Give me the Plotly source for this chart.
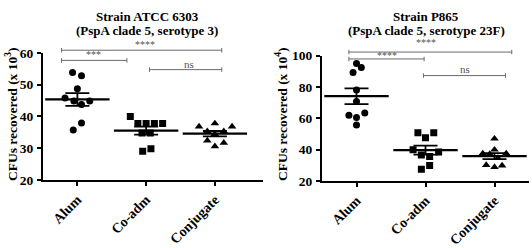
import numpy as np
import plotly.graph_objects as go

# ---------------- data ----------------
categories = ["Alum", "Co-adm", "Conjugate"]

left_title = ["Strain ATCC 6303", "(PspA clade 5, serotype 3)"]
right_title = ["Strain P865", "(PspA clade 5, serotype 23F)"]
left_ytitle = "CFUs recovered (x 10<sup>3</sup>)"
right_ytitle = "CFUs recovered (x 10<sup>4</sup>)"

left_alum = [53.8, 52.8, 48.7, 45.8, 44.8, 44.8, 43.7, 37.9, 35.7]
left_coadm = [40.0, 37.8, 37.8, 37.8, 37.8, 34.8, 34.8, 29.8, 29.0]
left_conj = [37.8, 36.8, 36.8, 35.3, 35.3, 34.4, 32.4, 31.7, 30.6]

right_alum = [94.9, 92.4, 89.1, 78.0, 70.6, 63.4, 61.9, 60.5, 55.6]
right_coadm = [50.8, 50.8, 47.6, 39.9, 38.5, 36.5, 35.6, 29.8, 27.4]
right_conj = [46.9, 39.9, 37.5, 37.5, 37.1, 34.6, 30.1, 29.8, 28.8]

left_yticks = [20, 30, 40, 50, 60]
right_yticks = [20, 40, 60, 80, 100]

# significance comparisons: (from category, to category, label)
left_sig = [("Alum", "Conjugate", "****"), ("Alum", "Co-adm", "***"), ("Co-adm", "Conjugate", "ns")]
right_sig = [("Alum", "Conjugate", "****"), ("Alum", "Co-adm", "****"), ("Co-adm", "Conjugate", "ns")]

# ---------------- layout / style (positions, not data) ----------------
left_dx = [
    [-0.07, 0.06, 0.0, -0.18, -0.05, 0.18, 0.06, 0.06, -0.06],
    [-0.23, -0.12, 0.0, 0.12, 0.24, -0.06, 0.06, 0.07, -0.05],
    [0.0, -0.23, 0.25, -0.11, 0.13, 0.0, -0.11, 0.13, 0.0],
]
right_dx = [
    [0.0, 0.07, -0.05, 0.0, 0.0, 0.12, -0.11, 0.0, 0.0],
    [-0.11, 0.12, 0.0, -0.18, 0.19, -0.06, 0.06, 0.06, -0.06],
    [0.0, 0.0, -0.17, 0.17, -0.07, 0.05, -0.12, 0.11, 0.0],
]
symbols = ["circle", "square", "triangle-up"]
msizes = [7, 7, 7.5]

# bracket placement: (x start, x end, y bracket, x text, y text) in axis units
left_br = [(-0.23, 2.1, 60.8, 0.99, 62.7), (-0.23, 0.72, 57.6, 0.24, 59.4), (1.05, 2.1, 54.7, 1.62, 56.4)]
right_br = [(-0.11, 2.25, 102.2, 1.0, 108.0), (-0.11, 0.98, 97.8, 0.44, 100.3), (0.97, 2.16, 87.2, 1.57, 91.6)]

W, H = 532, 248
SERIF = "Liberation Serif"
left_xrange = [-0.5, 2.7]
right_xrange = [-0.5, 2.5]
left_yrange = [20, 60]
right_yrange = [20, 100]

fig = go.Figure()


def add_panel(groups, dxs, xa, ya, yrange):
    for i, (vals, dx) in enumerate(zip(groups, dxs)):
        xs = [i + d for d in dx]
        fig.add_trace(go.Scatter(
            x=xs, y=vals, mode="markers", xaxis=xa, yaxis=ya,
            marker=dict(symbol=symbols[i], size=msizes[i], color="black"),
            showlegend=False, hoverinfo="y"))
        arr = np.array(vals)
        mean = arr.mean()
        sem = arr.std(ddof=1) / np.sqrt(len(arr))
        fig.add_trace(go.Scatter(
            x=[i], y=[mean], mode="markers", xaxis=xa, yaxis=ya,
            marker=dict(symbol="line-ew", size=46, color="black",
                        line=dict(width=2.2, color="black")),
            error_y=dict(type="data", array=[sem], visible=True,
                         width=12, thickness=1.8, color="black"),
            showlegend=False, hoverinfo="y"))


add_panel([left_alum, left_coadm, left_conj], left_dx, "x", "y", left_yrange)
add_panel([right_alum, right_coadm, right_conj], right_dx, "x2", "y2", right_yrange)


def to_dom(v, rng):
    return (v - rng[0]) / (rng[1] - rng[0])


def add_brackets(sig, br, xref, yref, yrange, tick):
    for (a, b, lab), (x0, x1, yb, xt, yt) in zip(sig, br):
        yd = to_dom(yb, yrange)
        path = (f"M {x0},{yd - tick} L {x0},{yd + tick} "
                f"M {x0},{yd} L {x1},{yd} "
                f"M {x1},{yd - tick} L {x1},{yd + tick}")
        fig.add_shape(type="path", path=path, xref=xref, yref=yref + " domain",
                      line=dict(color="#6a6a6a", width=1))
        fig.add_annotation(x=xt, y=to_dom(yt, yrange), xref=xref, yref=yref + " domain",
                           text=lab, showarrow=False, xanchor="center", yanchor="middle",
                           font=dict(family=SERIF, size=10 if lab != "ns" else 11, color="#555555"))


add_brackets(left_sig, left_br, "x", "y", left_yrange, 0.018)
add_brackets(right_sig, right_br, "x2", "y2", right_yrange, 0.018)

# titles
for lines, xc in ((left_title, 147), (right_title, 426)):
    for ln, ypx in zip(lines, (10, 26)):
        fig.add_annotation(x=xc / W, y=1 - ypx / H, xref="paper", yref="paper",
                           text=ln, showarrow=False, xanchor="center", yanchor="middle",
                           font=dict(family=SERIF, size=13, color="black", weight="bold"))

# y-axis titles
for txt, xpx in ((left_ytitle, 11), (right_ytitle, 281)):
    fig.add_annotation(x=xpx / W, y=1 - 117 / H, xref="paper", yref="paper",
                       text=txt, showarrow=False, textangle=-90,
                       xanchor="center", yanchor="middle",
                       font=dict(family=SERIF, size=13.5, color="black", weight="bold"))

axis_common = dict(showline=True, linecolor="black", linewidth=2, ticks="outside",
                   ticklen=4, tickwidth=2, tickcolor="black", showgrid=False,
                   zeroline=False, fixedrange=True)
ytickfont = dict(family=SERIF, size=13.5, color="black", weight="bold")
xtickfont = dict(family=SERIF, size=14, color="black", weight="bold")

fig.update_layout(
    width=W, height=H, margin=dict(l=0, r=0, t=0, b=0),
    paper_bgcolor="white", plot_bgcolor="white", showlegend=False,
    xaxis=dict(domain=[43 / W, 263 / W], range=left_xrange, tickvals=[0, 1, 2],
               ticktext=categories, tickangle=-45, anchor="y", tickfont=xtickfont,
               **axis_common),
    yaxis=dict(domain=[59 / H, 198 / H], range=left_yrange, tickvals=left_yticks,
               anchor="x", tickfont=ytickfont, ticklabelstandoff=1, **axis_common),
    xaxis2=dict(domain=[322 / W, 529 / W], range=right_xrange, tickvals=[0, 1, 2],
                ticktext=categories, tickangle=-45, anchor="y2", tickfont=xtickfont,
                **axis_common),
    yaxis2=dict(domain=[58 / H, 195 / H], range=right_yrange, tickvals=right_yticks,
                anchor="x2", tickfont=ytickfont, ticklabelstandoff=1, **axis_common),
)

fig.write_html("out.html")
